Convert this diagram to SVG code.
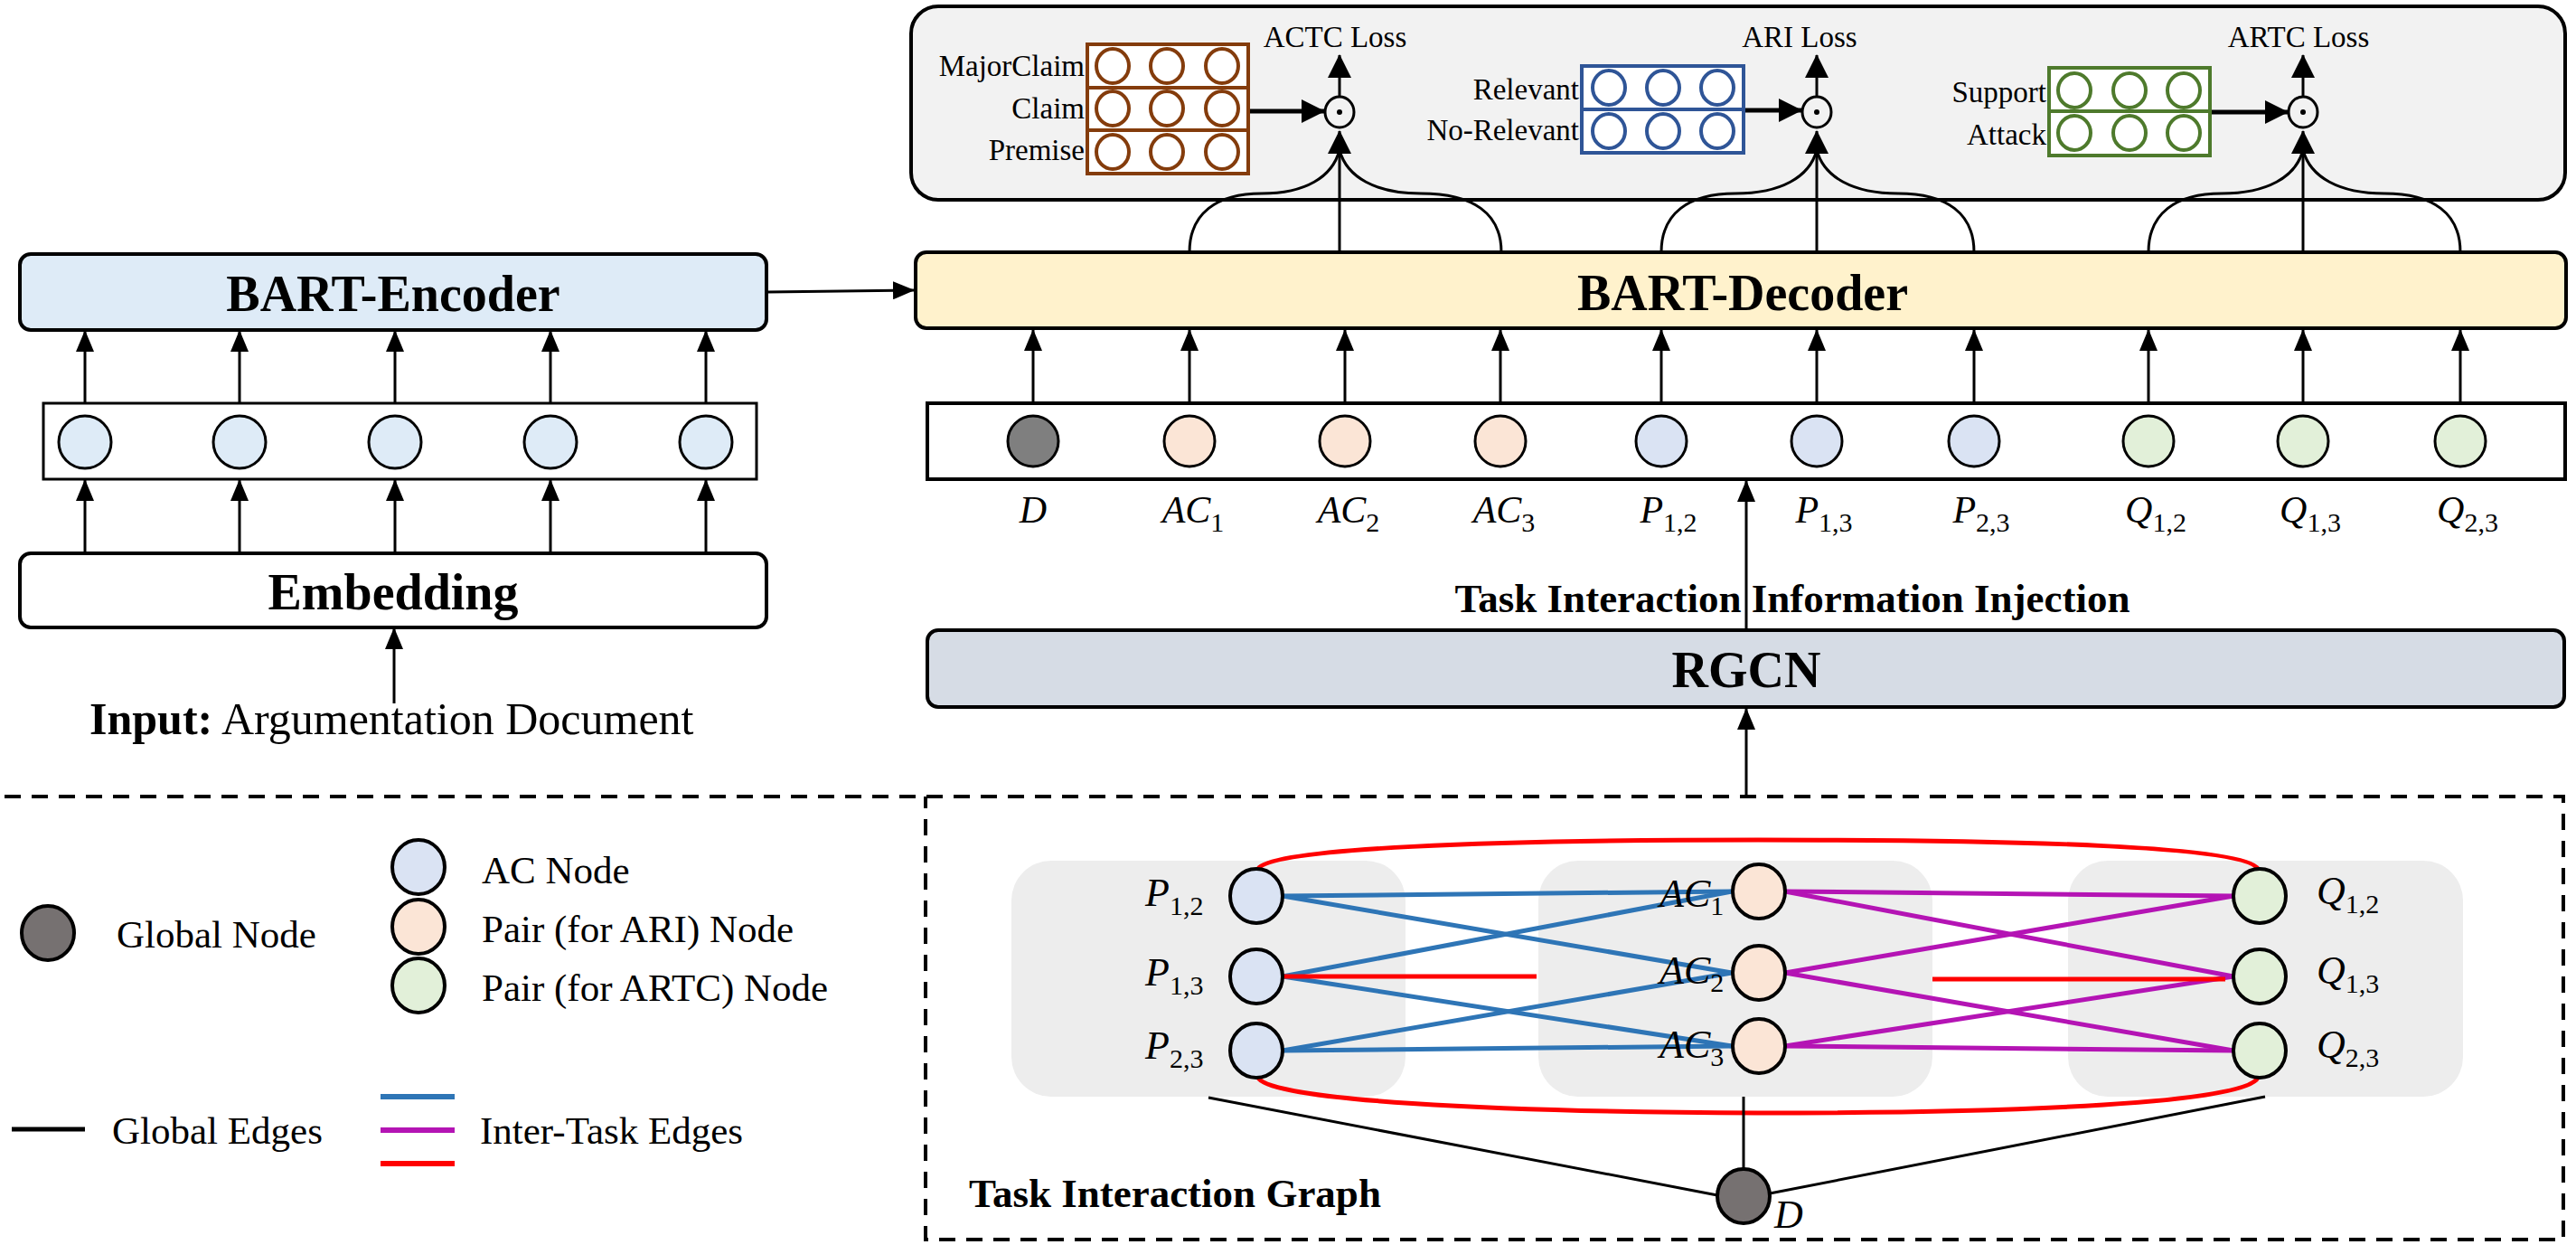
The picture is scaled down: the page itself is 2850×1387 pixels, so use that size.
<svg xmlns="http://www.w3.org/2000/svg" width="2850" height="1387" viewBox="0 0 2850 1387">
<defs>
<marker id="ah" viewBox="0 0 24 20" refX="23" refY="10" markerWidth="24" markerHeight="20" markerUnits="userSpaceOnUse" orient="auto">
<path d="M0,0 L24,10 L0,20 z" fill="#000"/>
</marker>
<marker id="ahb" viewBox="0 0 26 26" refX="25" refY="13" markerWidth="26" markerHeight="26" markerUnits="userSpaceOnUse" orient="auto">
<path d="M0,0 L26,13 L0,26 z" fill="#000"/>
</marker>
</defs>
<style>
text{font-family:"Liberation Serif","Times New Roman",serif;fill:#000}
.b{font-weight:bold}
.m{font-style:italic}
.sub{font-style:normal;font-size:30px}
.ln{stroke:#000;stroke-width:3;fill:none}
.arr{marker-end:url(#ah)}
.box{stroke:#000;stroke-width:4}
.nd{stroke:#000;stroke-width:3}
.gn{stroke:#000;stroke-width:4}
.br{stroke:#843c0c;stroke-width:4;fill:#fff}
.bl{stroke:#2f5597;stroke-width:4;fill:#fff}
.gr{stroke:#4e7a2c;stroke-width:4;fill:#fff}
.blue{stroke:#2e75b6;stroke-width:5;fill:none}
.mag{stroke:#b414b4;stroke-width:5;fill:none}
.red{stroke:#ff0000;stroke-width:5;fill:none}
.pan{fill:#ededed}
.fD{fill:#7f7f7f}
.fG{fill:#767171}
.fA{fill:#fbe5d6}
.fP{fill:#dae3f3}
.fQ{fill:#e2f0d9}
.fE{fill:#deebf7}
</style>

<!-- Loss panel -->
<g id="loss-panel">
<rect x="1008" y="7" width="1830" height="214" rx="30" fill="#f2f2f2" class="box"/>
</g>

<g id="actc-classifier">
<rect x="1203" y="49" width="178" height="48" class="br"/>
<rect x="1203" y="97" width="178" height="47" class="br"/>
<rect x="1203" y="144" width="178" height="48" class="br"/>
<ellipse cx="1231" cy="73" rx="18" ry="19" class="br"/><ellipse cx="1291" cy="73" rx="18" ry="19" class="br"/><ellipse cx="1352" cy="73" rx="18" ry="19" class="br"/>
<ellipse cx="1231" cy="120" rx="18" ry="19" class="br"/><ellipse cx="1291" cy="120" rx="18" ry="19" class="br"/><ellipse cx="1352" cy="120" rx="18" ry="19" class="br"/>
<ellipse cx="1231" cy="168" rx="18" ry="19" class="br"/><ellipse cx="1291" cy="168" rx="18" ry="19" class="br"/><ellipse cx="1352" cy="168" rx="18" ry="19" class="br"/>
<text x="1200" y="84" font-size="33" text-anchor="end">MajorClaim</text>
<text x="1200" y="131" font-size="33" text-anchor="end">Claim</text>
<text x="1200" y="177" font-size="33" text-anchor="end">Premise</text>
</g>

<g id="ari-classifier">
<rect x="1750" y="73" width="179" height="48" class="bl"/>
<rect x="1750" y="121" width="179" height="48" class="bl"/>
<ellipse cx="1780" cy="97" rx="18" ry="19" class="bl"/><ellipse cx="1840" cy="97" rx="18" ry="19" class="bl"/><ellipse cx="1900" cy="97" rx="18" ry="19" class="bl"/>
<ellipse cx="1780" cy="145" rx="18" ry="19" class="bl"/><ellipse cx="1840" cy="145" rx="18" ry="19" class="bl"/><ellipse cx="1900" cy="145" rx="18" ry="19" class="bl"/>
<text x="1747" y="110" font-size="33" text-anchor="end">Relevant</text>
<text x="1747" y="155" font-size="33" text-anchor="end">No-Relevant</text>
</g>

<g id="artc-classifier">
<rect x="2267" y="75" width="178" height="48" class="gr"/>
<rect x="2267" y="123" width="178" height="49" class="gr"/>
<ellipse cx="2295" cy="100" rx="18" ry="19" class="gr"/><ellipse cx="2356" cy="100" rx="18" ry="19" class="gr"/><ellipse cx="2416" cy="100" rx="18" ry="19" class="gr"/>
<ellipse cx="2295" cy="147" rx="18" ry="19" class="gr"/><ellipse cx="2356" cy="147" rx="18" ry="19" class="gr"/><ellipse cx="2416" cy="147" rx="18" ry="19" class="gr"/>
<text x="2264" y="113" font-size="33" text-anchor="end">Support</text>
<text x="2264" y="160" font-size="33" text-anchor="end">Attack</text>
</g>

<g id="odots">
<ellipse cx="1482" cy="124" rx="16" ry="17" fill="#f2f2f2" class="nd"/><circle cx="1482" cy="124" r="3"/>
<ellipse cx="2010" cy="124" rx="16" ry="17" fill="#f2f2f2" class="nd"/><circle cx="2010" cy="124" r="3"/>
<ellipse cx="2548" cy="124" rx="16" ry="17" fill="#f2f2f2" class="nd"/><circle cx="2548" cy="124" r="3"/>
<text x="1477" y="52" font-size="33" text-anchor="middle">ACTC Loss</text>
<text x="1991" y="52" font-size="33" text-anchor="middle">ARI Loss</text>
<text x="2543" y="52" font-size="33" text-anchor="middle">ARTC Loss</text>
</g>

<!-- Encoder side -->
<g id="bart-encoder">
<rect x="22" y="281" width="826" height="84" rx="12" class="box fE"/>
<text x="435" y="344" font-size="56" class="b" text-anchor="middle">BART-Encoder</text>
</g>
<g id="encoder-tokens">
<rect x="48" y="446" width="789" height="84" fill="#fff" class="nd"/>
<circle cx="94" cy="489" r="29" class="nd fE"/>
<circle cx="265" cy="489" r="29" class="nd fE"/>
<circle cx="437" cy="489" r="29" class="nd fE"/>
<circle cx="609" cy="489" r="29" class="nd fE"/>
<circle cx="781" cy="489" r="29" class="nd fE"/>
</g>
<g id="embedding">
<rect x="22" y="612" width="826" height="82" rx="12" fill="#fff" class="box"/>
<text x="435" y="674" font-size="56" class="b" text-anchor="middle">Embedding</text>
</g>
<g id="input">
<text x="99" y="812" font-size="50"><tspan class="b">Input:</tspan> Argumentation Document</text>
</g>

<!-- Decoder side -->
<g id="bart-decoder">
<rect x="1013" y="279" width="1826" height="84" rx="12" fill="#fff2cc" class="box"/>
<text x="1928" y="343" font-size="56" class="b" text-anchor="middle">BART-Decoder</text>
</g>
<g id="decoder-tokens">
<rect x="1026" y="446" width="1812" height="84" fill="#fff" class="box"/>
<circle cx="1143" cy="488" r="28" class="nd fD"/>
<circle cx="1316" cy="488" r="28" class="nd fA"/>
<circle cx="1488" cy="488" r="28" class="nd fA"/>
<circle cx="1660" cy="488" r="28" class="nd fA"/>
<circle cx="1838" cy="488" r="28" class="nd fP"/>
<circle cx="2010" cy="488" r="28" class="nd fP"/>
<circle cx="2184" cy="488" r="28" class="nd fP"/>
<circle cx="2377" cy="488" r="28" class="nd fQ"/>
<circle cx="2548" cy="488" r="28" class="nd fQ"/>
<circle cx="2722" cy="488" r="28" class="nd fQ"/>
<text x="1143" y="578" font-size="42" class="m" text-anchor="middle">D</text>
<text x="1320" y="578" font-size="42" class="m" text-anchor="middle">AC<tspan class="sub" dy="10">1</tspan></text>
<text x="1492" y="578" font-size="42" class="m" text-anchor="middle">AC<tspan class="sub" dy="10">2</tspan></text>
<text x="1664" y="578" font-size="42" class="m" text-anchor="middle">AC<tspan class="sub" dy="10">3</tspan></text>
<text x="1846" y="578" font-size="42" class="m" text-anchor="middle">P<tspan class="sub" dy="10">1,2</tspan></text>
<text x="2018" y="578" font-size="42" class="m" text-anchor="middle">P<tspan class="sub" dy="10">1,3</tspan></text>
<text x="2192" y="578" font-size="42" class="m" text-anchor="middle">P<tspan class="sub" dy="10">2,3</tspan></text>
<text x="2385" y="578" font-size="42" class="m" text-anchor="middle">Q<tspan class="sub" dy="10">1,2</tspan></text>
<text x="2556" y="578" font-size="42" class="m" text-anchor="middle">Q<tspan class="sub" dy="10">1,3</tspan></text>
<text x="2730" y="578" font-size="42" class="m" text-anchor="middle">Q<tspan class="sub" dy="10">2,3</tspan></text>
</g>
<g id="injection-label">
<text x="1983" y="677" font-size="45" class="b" text-anchor="middle">Task Interaction Information Injection</text>
</g>
<g id="rgcn">
<rect x="1026" y="697" width="1811" height="85" rx="12" fill="#d6dce5" class="box"/>
<text x="1932" y="760" font-size="56" class="b" text-anchor="middle">RGCN</text>
</g>

<!-- Task interaction graph -->
<g id="graph-frame">
<path d="M5,881 H2836 V1371 H1024 V881" fill="none" stroke="#000" stroke-width="4" stroke-dasharray="18 12"/>
<rect x="1119" y="952" width="436" height="261" rx="44" class="pan"/>
<rect x="1702" y="952" width="436" height="261" rx="44" class="pan"/>
<rect x="2288" y="952" width="437" height="261" rx="44" class="pan"/>
<text x="1072" y="1335" font-size="45" class="b">Task Interaction Graph</text>
</g>

<g id="connectors">
<!-- encoder arrows -->
<line x1="94" y1="446" x2="94" y2="366" class="ln arr"/>
<line x1="265" y1="446" x2="265" y2="366" class="ln arr"/>
<line x1="437" y1="446" x2="437" y2="366" class="ln arr"/>
<line x1="609" y1="446" x2="609" y2="366" class="ln arr"/>
<line x1="781" y1="446" x2="781" y2="366" class="ln arr"/>
<line x1="94" y1="612" x2="94" y2="531" class="ln arr"/>
<line x1="265" y1="612" x2="265" y2="531" class="ln arr"/>
<line x1="437" y1="612" x2="437" y2="531" class="ln arr"/>
<line x1="609" y1="612" x2="609" y2="531" class="ln arr"/>
<line x1="781" y1="612" x2="781" y2="531" class="ln arr"/>
<line x1="436" y1="778" x2="436" y2="695" class="ln arr"/>
<line x1="849" y1="323" x2="1011" y2="321" class="ln arr"/>
<!-- decoder input arrows -->
<line x1="1143" y1="446" x2="1143" y2="365" class="ln arr"/>
<line x1="1316" y1="446" x2="1316" y2="365" class="ln arr"/>
<line x1="1488" y1="446" x2="1488" y2="365" class="ln arr"/>
<line x1="1660" y1="446" x2="1660" y2="365" class="ln arr"/>
<line x1="1838" y1="446" x2="1838" y2="365" class="ln arr"/>
<line x1="2010" y1="446" x2="2010" y2="365" class="ln arr"/>
<line x1="2184" y1="446" x2="2184" y2="365" class="ln arr"/>
<line x1="2377" y1="446" x2="2377" y2="365" class="ln arr"/>
<line x1="2548" y1="446" x2="2548" y2="365" class="ln arr"/>
<line x1="2722" y1="446" x2="2722" y2="365" class="ln arr"/>
<!-- RGCN to tokens, graph to RGCN -->
<line x1="1932" y1="697" x2="1932" y2="532" class="ln arr"/>
<line x1="1932" y1="882" x2="1932" y2="784" class="ln arr"/>
<!-- classifier to odot -->
<line x1="1383" y1="123" x2="1465" y2="123" stroke="#000" stroke-width="5" marker-end="url(#ahb)"/>
<line x1="1931" y1="122" x2="1993" y2="122" stroke="#000" stroke-width="5" marker-end="url(#ahb)"/>
<line x1="2447" y1="124" x2="2531" y2="124" stroke="#000" stroke-width="5" marker-end="url(#ahb)"/>
<!-- odot up to loss -->
<line x1="1482" y1="107" x2="1482" y2="61" class="ln" stroke-width="4" marker-end="url(#ahb)"/>
<line x1="2010" y1="107" x2="2010" y2="61" class="ln" stroke-width="4" marker-end="url(#ahb)"/>
<line x1="2548" y1="107" x2="2548" y2="61" class="ln" stroke-width="4" marker-end="url(#ahb)"/>
<!-- decoder outputs to odot -->
<line x1="1482" y1="279" x2="1482" y2="145" class="ln" stroke-width="4" marker-end="url(#ahb)"/>
<path d="M1316,279 C1316,236 1346,214 1396,214 C1444,214 1474,196 1482,166" class="ln" stroke-width="4"/>
<path d="M1661,279 C1661,236 1630,214 1572,214 C1522,214 1490,196 1482,166" class="ln" stroke-width="4"/>
<line x1="2010" y1="279" x2="2010" y2="145" class="ln" stroke-width="4" marker-end="url(#ahb)"/>
<path d="M1838,279 C1838,236 1868,214 1920,214 C1970,214 2002,196 2010,166" class="ln" stroke-width="4"/>
<path d="M2184,279 C2184,236 2154,214 2100,214 C2050,214 2018,196 2010,166" class="ln" stroke-width="4"/>
<line x1="2548" y1="279" x2="2548" y2="145" class="ln" stroke-width="4" marker-end="url(#ahb)"/>
<path d="M2377,279 C2377,236 2407,214 2458,214 C2508,214 2540,196 2548,166" class="ln" stroke-width="4"/>
<path d="M2722,279 C2722,236 2692,214 2638,214 C2588,214 2556,196 2548,166" class="ln" stroke-width="4"/>
<!-- graph edges -->
<line x1="1419" y1="991" x2="1916" y2="986" class="blue"/>
<line x1="1419" y1="991" x2="1916" y2="1076" class="blue"/>
<line x1="1419" y1="1080" x2="1916" y2="986" class="blue"/>
<line x1="1419" y1="1080" x2="1916" y2="1157" class="blue"/>
<line x1="1419" y1="1162" x2="1916" y2="1076" class="blue"/>
<line x1="1419" y1="1162" x2="1916" y2="1157" class="blue"/>
<line x1="1419" y1="1080" x2="1700" y2="1080" class="red"/>
<line x1="1975" y1="986" x2="2471" y2="991" class="mag"/>
<line x1="1975" y1="986" x2="2471" y2="1080" class="mag"/>
<line x1="1975" y1="1076" x2="2471" y2="991" class="mag"/>
<line x1="1975" y1="1076" x2="2471" y2="1162" class="mag"/>
<line x1="1975" y1="1157" x2="2471" y2="1080" class="mag"/>
<line x1="1975" y1="1157" x2="2471" y2="1162" class="mag"/>
<line x1="2138" y1="1083" x2="2462" y2="1083" class="red"/>
<path d="M1392,961 C1405,938 1650,929 1945,929 C2240,929 2485,936 2498,961" class="red"/>
<path d="M1392,1192 C1405,1217 1650,1230 1945,1231 C2240,1231 2485,1220 2498,1192" class="red"/>
<line x1="1337" y1="1214" x2="1900" y2="1322" class="ln"/>
<line x1="1929" y1="1213" x2="1929" y2="1293" class="ln"/>
<line x1="2506" y1="1213" x2="1958" y2="1320" class="ln"/>
</g>

<g id="graph-p-nodes">
<ellipse cx="1390" cy="991" rx="29" ry="30" class="gn fP"/>
<ellipse cx="1390" cy="1080" rx="29" ry="30" class="gn fP"/>
<ellipse cx="1390" cy="1162" rx="29" ry="30" class="gn fP"/>
<text x="1267" y="1002" font-size="44" class="m">P<tspan class="sub" dy="10">1,2</tspan></text>
<text x="1267" y="1090" font-size="44" class="m">P<tspan class="sub" dy="10">1,3</tspan></text>
<text x="1267" y="1171" font-size="44" class="m">P<tspan class="sub" dy="10">2,3</tspan></text>
</g>
<g id="graph-ac-nodes">
<ellipse cx="1946" cy="986" rx="29" ry="30" class="gn fA"/>
<ellipse cx="1946" cy="1076" rx="29" ry="30" class="gn fA"/>
<ellipse cx="1946" cy="1157" rx="29" ry="30" class="gn fA"/>
<text x="1836" y="1003" font-size="44" class="m">AC<tspan class="sub" dy="9">1</tspan></text>
<text x="1836" y="1088" font-size="44" class="m">AC<tspan class="sub" dy="9">2</tspan></text>
<text x="1836" y="1170" font-size="44" class="m">AC<tspan class="sub" dy="9">3</tspan></text>
</g>
<g id="graph-q-nodes">
<ellipse cx="2500" cy="991" rx="29" ry="30" class="gn fQ"/>
<ellipse cx="2500" cy="1080" rx="29" ry="30" class="gn fQ"/>
<ellipse cx="2500" cy="1162" rx="29" ry="30" class="gn fQ"/>
<text x="2563" y="1000" font-size="44" class="m">Q<tspan class="sub" dy="10">1,2</tspan></text>
<text x="2563" y="1088" font-size="44" class="m">Q<tspan class="sub" dy="10">1,3</tspan></text>
<text x="2563" y="1170" font-size="44" class="m">Q<tspan class="sub" dy="10">2,3</tspan></text>
</g>
<g id="graph-global-node">
<ellipse cx="1929" cy="1323" rx="29" ry="30" class="gn fG"/>
<text x="1963" y="1358" font-size="44" class="m">D</text>
</g>

<!-- Legend -->
<g id="legend">
<ellipse cx="53" cy="1032" rx="29" ry="30" class="gn fG"/>
<text x="129" y="1048" font-size="43">Global Node</text>
<ellipse cx="463" cy="959" rx="29" ry="30" class="gn fP"/>
<ellipse cx="463" cy="1025" rx="29" ry="30" class="gn fA"/>
<ellipse cx="463" cy="1090" rx="29" ry="30" class="gn fQ"/>
<text x="533" y="977" font-size="43">AC Node</text>
<text x="533" y="1042" font-size="43">Pair (for ARI) Node</text>
<text x="533" y="1107" font-size="43">Pair (for ARTC) Node</text>
<line x1="13" y1="1249" x2="94" y2="1249" stroke="#000" stroke-width="5"/>
<text x="124" y="1265" font-size="43">Global Edges</text>
<line x1="421" y1="1213" x2="503" y2="1213" stroke="#2e75b6" stroke-width="6"/>
<line x1="421" y1="1250" x2="503" y2="1250" stroke="#b414b4" stroke-width="6"/>
<line x1="421" y1="1287" x2="503" y2="1287" stroke="#ff0000" stroke-width="6"/>
<text x="531" y="1265" font-size="43">Inter-Task Edges</text>
</g>
</svg>
